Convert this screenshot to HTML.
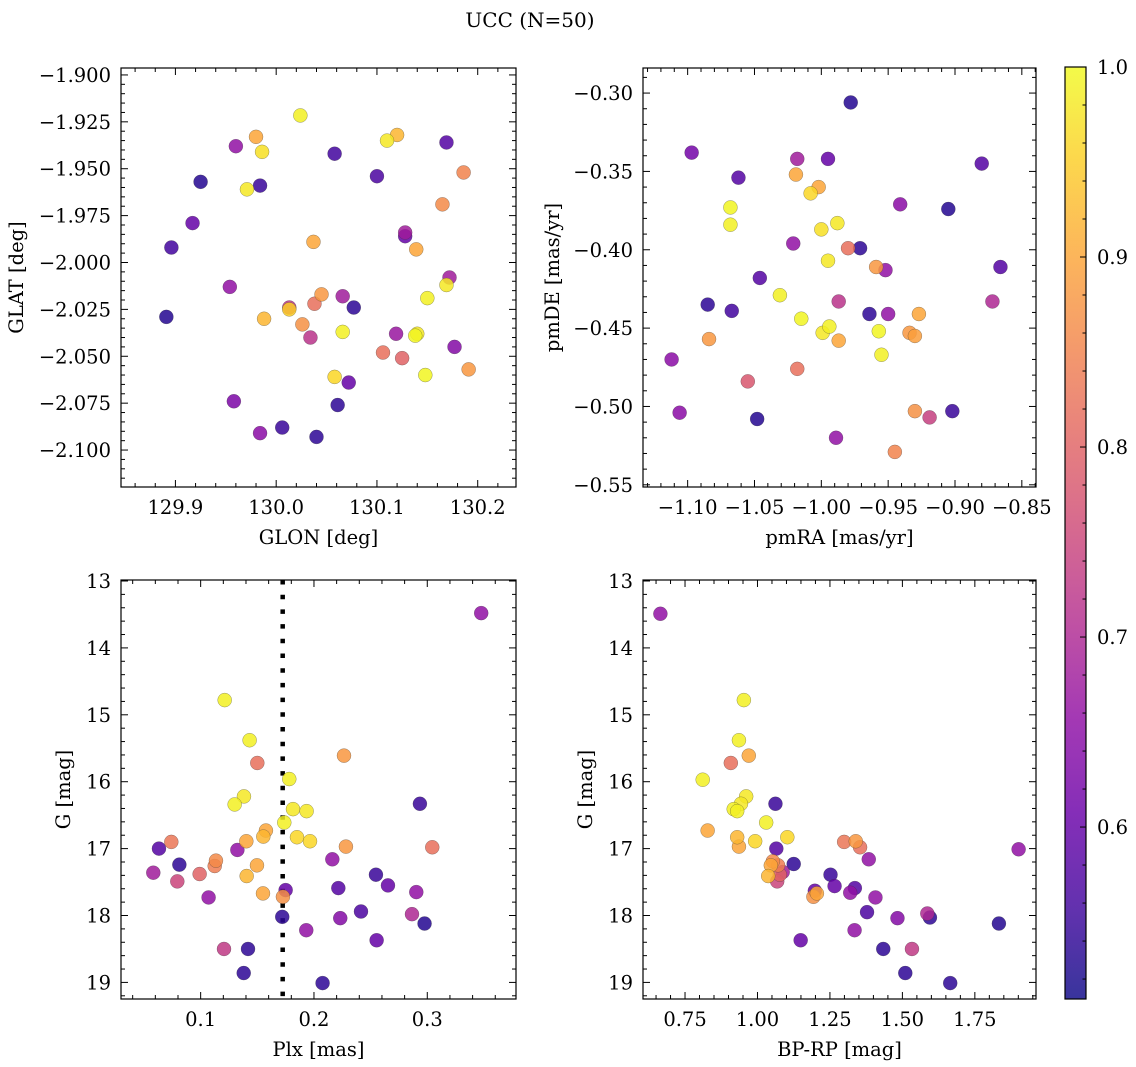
<!DOCTYPE html>
<html><head><meta charset="utf-8"><title>UCC (N=50)</title>
<style>
html,body{margin:0;padding:0;background:#fff;}
svg{display:block;font-family:"DejaVu Serif","Liberation Serif",serif;}
</style></head>
<body>
<svg id="chart" width="1136" height="1067" viewBox="0 0 1136 1067" xmlns="http://www.w3.org/2000/svg">
<text x="530" y="27" text-anchor="middle" font-size="20">UCC (N=50)</text>
</svg>
<script>
// ---- Panel 1: GLON vs GLAT ----
const p1Glon=[130.024,129.980,129.960,129.986,130.058,129.925,129.971,129.984,130.110,130.120,130.169,130.100,130.186,129.917,129.896,130.165,130.037,130.128,130.128,130.139,130.172,129.954,130.169,130.150,130.045,130.066,130.013,130.013,130.038,130.077,129.988,129.891,130.026,130.034,130.066,130.119,130.140,130.138,130.177,130.106,130.125,130.191,130.058,130.148,130.072,130.061,129.958,130.006,129.984,130.040];
const p1Glat=[-1.9216,-1.933,-1.938,-1.941,-1.942,-1.957,-1.961,-1.959,-1.935,-1.932,-1.936,-1.954,-1.952,-1.979,-1.992,-1.969,-1.989,-1.984,-1.986,-1.993,-2.008,-2.013,-2.012,-2.019,-2.017,-2.018,-2.024,-2.025,-2.022,-2.024,-2.030,-2.029,-2.033,-2.040,-2.037,-2.038,-2.038,-2.039,-2.045,-2.048,-2.051,-2.057,-2.061,-2.060,-2.064,-2.076,-2.074,-2.088,-2.091,-2.093];
const p1Prob=[0.99,0.9,0.66,0.97,0.56,0.53,0.98,0.55,0.98,0.92,0.58,0.57,0.85,0.6,0.56,0.86,0.9,0.68,0.6,0.9,0.68,0.66,0.98,0.99,0.88,0.68,0.72,0.95,0.82,0.54,0.92,0.53,0.87,0.72,0.99,0.67,0.98,0.995,0.64,0.82,0.8,0.88,0.96,0.995,0.6,0.54,0.63,0.55,0.65,0.54];
// ---- Panel 2: pmRA vs pmDE ----
const p2Pmra=[-0.978,-1.097,-1.018,-0.995,-0.880,-1.062,-1.019,-1.002,-1.008,-1.068,-1.068,-0.941,-0.905,-1.000,-0.988,-1.021,-0.980,-0.971,-0.995,-0.959,-0.952,-0.866,-1.046,-1.031,-0.987,-1.085,-1.067,-1.015,-0.964,-0.950,-0.927,-0.872,-0.994,-0.999,-0.957,-0.987,-0.934,-0.930,-1.084,-0.955,-1.112,-1.018,-1.055,-1.106,-1.048,-0.930,-0.919,-0.902,-0.989,-0.945];
const p2Pmde=[-0.306,-0.338,-0.342,-0.342,-0.345,-0.354,-0.352,-0.360,-0.364,-0.373,-0.384,-0.371,-0.374,-0.387,-0.383,-0.396,-0.399,-0.399,-0.407,-0.411,-0.413,-0.411,-0.418,-0.429,-0.433,-0.435,-0.439,-0.444,-0.441,-0.441,-0.441,-0.433,-0.449,-0.453,-0.452,-0.458,-0.453,-0.455,-0.457,-0.467,-0.470,-0.476,-0.484,-0.504,-0.508,-0.503,-0.507,-0.503,-0.520,-0.529];
const p2Prob=[0.53,0.62,0.68,0.6,0.58,0.58,0.9,0.9,0.96,0.995,0.99,0.65,0.53,0.97,0.98,0.66,0.82,0.54,0.98,0.88,0.66,0.58,0.58,0.99,0.72,0.54,0.56,0.995,0.54,0.66,0.9,0.7,0.99,0.98,0.995,0.9,0.88,0.89,0.88,0.99,0.65,0.82,0.78,0.65,0.53,0.87,0.74,0.55,0.66,0.85];
// ---- Panel 3: Plx vs G ----
const p3Plx=[0.3476,0.1212,0.1432,0.150,0.2265,0.1782,0.1382,0.130,0.2935,0.1815,0.1935,0.1738,0.1576,0.1553,0.185,0.1965,0.1403,0.0741,0.2282,0.3044,0.0632,0.1324,0.2162,0.1135,0.1124,0.1497,0.0812,0.0582,0.0991,0.1406,0.2547,0.0794,0.2653,0.2215,0.175,0.2903,0.155,0.1726,0.107,0.2415,0.2865,0.172,0.2232,0.2976,0.1932,0.2553,0.1206,0.1418,0.138,0.2076];
const p3G=[13.48,14.78,15.38,15.72,15.61,15.96,16.22,16.34,16.33,16.41,16.44,16.61,16.73,16.82,16.83,16.89,16.89,16.90,16.97,16.98,17.00,17.02,17.16,17.18,17.26,17.25,17.24,17.36,17.38,17.41,17.39,17.49,17.55,17.59,17.62,17.65,17.67,17.72,17.73,17.94,17.98,18.02,18.04,18.12,18.22,18.37,18.50,18.50,18.86,19.01];
const p3Prob=[0.66,0.99,0.99,0.82,0.88,0.99,0.98,0.99,0.55,0.98,0.98,0.99,0.9,0.92,0.96,0.96,0.9,0.83,0.88,0.82,0.58,0.66,0.66,0.86,0.84,0.9,0.54,0.68,0.8,0.92,0.55,0.75,0.6,0.58,0.6,0.66,0.9,0.87,0.66,0.57,0.7,0.54,0.64,0.53,0.66,0.6,0.73,0.54,0.54,0.54];
const plxLine=0.1724;
// ---- Panel 4: BP-RP vs G ----
const p4Bprp=[0.665,0.953,0.936,0.970,0.908,0.811,0.961,0.943,0.918,0.930,1.062,1.030,0.828,0.930,1.103,0.992,0.936,1.299,1.339,1.354,1.901,1.065,1.384,1.053,1.071,1.046,1.125,1.087,1.077,1.037,1.252,1.068,1.266,1.336,1.198,1.320,1.205,1.193,1.407,1.378,1.586,1.595,1.483,1.833,1.335,1.149,1.533,1.434,1.510,1.665];
const p4G=[13.49,14.78,15.38,15.61,15.72,15.97,16.22,16.33,16.41,16.44,16.33,16.61,16.73,16.83,16.83,16.89,16.97,16.90,16.89,16.98,17.01,17.00,17.16,17.19,17.25,17.25,17.23,17.35,17.39,17.41,17.39,17.49,17.56,17.59,17.63,17.66,17.67,17.72,17.73,17.95,17.97,18.03,18.04,18.12,18.22,18.37,18.50,18.50,18.86,19.01];
const p4Prob=[0.66,0.99,0.99,0.9,0.82,0.99,0.98,0.98,0.99,0.99,0.55,0.99,0.9,0.92,0.96,0.96,0.9,0.83,0.88,0.82,0.66,0.58,0.66,0.86,0.84,0.9,0.54,0.68,0.8,0.92,0.55,0.75,0.6,0.58,0.6,0.66,0.9,0.87,0.66,0.57,0.7,0.54,0.64,0.53,0.66,0.6,0.73,0.54,0.54,0.54];
// ---- Colorbar ----
const cbTicks=[0.6,0.7,0.8,0.9,1.0];
const cbMin=0.5095, cbMax=1.0;

const NS="http://www.w3.org/2000/svg";
const svg=document.getElementById('chart');
const FS=19.5;
function mk(tag,attrs,parent){const e=document.createElementNS(NS,tag);for(const k in attrs)e.setAttribute(k,attrs[k]);(parent||svg).appendChild(e);return e;}
const stops=["#0d0887","#41049d","#6a00a8","#8f0da4","#b12a90","#cc4778","#e16462","#f2844b","#fca636","#fcce25","#f0f921"];
function hex(h){return[parseInt(h.substr(1,2),16),parseInt(h.substr(3,2),16),parseInt(h.substr(5,2),16)];}
function plasma(t){t=Math.max(0,Math.min(1,t));const f=t*10,i=Math.min(9,Math.floor(f)),u=f-i;const a=hex(stops[i]),b=hex(stops[i+1]);return'rgb('+a.map((v,k)=>Math.round(v+(b[k]-v)*u)).join(',')+')';}
function fmt(v,d){return v.toFixed(d).replace('-','\u2212');}

function panel(c){
  const g=mk('g',{});
  
  
  const X=v=>c.L+(v-c.x0)/(c.x1-c.x0)*(c.R-c.L);
  const Y=v=>c.T+(v-c.yT)/(c.yB-c.yT)*(c.B-c.T);
  const tg=mk('g',{stroke:'#000','stroke-width':1},g);
  function ticks(lo,hi,step,nmin){
    const out=[];const sm=step/nmin;
    const a=Math.ceil(Math.min(lo,hi)/sm-1e-6),b=Math.floor(Math.max(lo,hi)/sm+1e-6);
    for(let i=a;i<=b;i++){out.push({v:i*sm,major:(Math.abs(i%nmin)===0)});}
    return out;
  }
  ticks(c.x0,c.x1,c.xs,c.xn).forEach(t=>{const x=X(t.v),l=t.major?7:4;
    mk('line',{x1:x,x2:x,y1:c.B,y2:c.B-l},tg);mk('line',{x1:x,x2:x,y1:c.T,y2:c.T+l},tg);
    if(t.major){const tx=mk('text',{x:x,y:c.B+27,'text-anchor':'middle','font-size':FS},g);tx.textContent=fmt(t.v,c.xd);
      }});
  ticks(c.yT,c.yB,c.ys,c.yn).forEach(t=>{const y=Y(t.v),l=t.major?7:4;
    mk('line',{x1:c.L,x2:c.L+l,y1:y,y2:y},tg);mk('line',{x1:c.R,x2:c.R-l,y1:y,y2:y},tg);
    if(t.major){const tx=mk('text',{x:c.L-10,y:y+7,'text-anchor':'end','font-size':FS},g);tx.textContent=fmt(t.v,c.yd);
      }});
  if(c.vline!==undefined){const ln=mk('line',{x1:X(c.vline),x2:X(c.vline),y1:c.T,y2:c.B,stroke:'#000','stroke-width':4.5,'stroke-dasharray':'4.5 10.2'},g);
    }
  const idx=c.xs_.map((_,i)=>i).sort((a,b)=>c.p[a]-c.p[b]);
  idx.forEach(i=>{const cc=mk('circle',{cx:X(c.xs_[i]),cy:Y(c.ys_[i]),r:7,fill:plasma((c.p[i]-cbMin)/(cbMax-cbMin)),'fill-opacity':0.85,stroke:'#333','stroke-width':0.5,'stroke-opacity':0.5},g);
    });
  const fr=mk('rect',{x:c.L,y:c.T,width:c.R-c.L,height:c.B-c.T,fill:'none',stroke:'#000','stroke-width':1.2},g);
  
  const xl=mk('text',{x:(c.L+c.R)/2,y:c.B+57,'text-anchor':'middle','font-size':FS},g);xl.textContent=c.xl;
  
  const yl=mk('text',{x:0,y:0,'text-anchor':'middle','font-size':FS,transform:'translate('+c.ylx+','+(c.T+c.B)/2+') rotate(-90)'},g);yl.textContent=c.yl;
  
}

panel({name:'glon-glat-panel',L:121,R:516,T:68,B:487,x0:129.846,x1:130.238,yT:-1.8963,yB:-2.1197,xs:0.1,xn:5,ys:0.025,yn:5,xd:1,yd:3,xs_:p1Glon,ys_:p1Glat,p:p1Prob,xl:'GLON [deg]',yl:'GLAT [deg]',ylx:23});
panel({name:'pm-panel',L:643,R:1036,T:68,B:487,x0:-1.1334,x1:-0.8394,yT:-0.284,yB:-0.5514,xs:0.05,xn:5,ys:0.05,yn:5,xd:2,yd:2,xs_:p2Pmra,ys_:p2Pmde,p:p2Prob,xl:'pmRA [mas/yr]',yl:'pmDE [mas/yr]',ylx:559});
panel({name:'plx-g-panel',L:121,R:516,T:580,B:999,x0:0.0297,x1:0.3783,yT:12.985,yB:19.248,xs:0.1,xn:5,ys:1,yn:5,xd:1,yd:0,xs_:p3Plx,ys_:p3G,p:p3Prob,xl:'Plx [mas]',yl:'G [mag]',ylx:70,vline:plxLine});
panel({name:'cmd-panel',L:643,R:1036,T:580,B:999,x0:0.605,x1:1.961,yT:12.985,yB:19.248,xs:0.25,xn:5,ys:1,yn:5,xd:2,yd:0,xs_:p4Bprp,ys_:p4G,p:p4Prob,xl:'BP-RP [mag]',yl:'G [mag]',ylx:592});

(function(){
  const L=1065,R=1086,T=67,B=999;
  const cg=mk('g',{});
  
  
  const defs=mk('defs',{},cg);
  const lg=mk('linearGradient',{id:'cbgrad',x1:0,y1:1,x2:0,y2:0},defs);
  for(let i=0;i<=20;i++){mk('stop',{offset:i/20,'stop-color':plasma(i/20)},lg);}
  mk('rect',{x:L,y:T,width:R-L,height:B-T,fill:'url(#cbgrad)','fill-opacity':0.82},cg);
  const Y=v=>B-(v-cbMin)/(cbMax-cbMin)*(B-T);
  for(let k=Math.ceil(cbMin*50);k<=50;k++){const v=k/50,y=Y(v),maj=(k%5===0);
    mk('line',{x1:R,x2:R-(maj?6:3.5),y1:y,y2:y,stroke:'#000','stroke-width':1},cg);}
  cbTicks.forEach(v=>{const t=mk('text',{x:R+11,y:Y(v)+7,'font-size':FS},cg);t.textContent=v.toFixed(1);
    });
  mk('rect',{x:L,y:T,width:R-L,height:B-T,fill:'none',stroke:'#000','stroke-width':1.2},cg);
})();
</script>
</body></html>
